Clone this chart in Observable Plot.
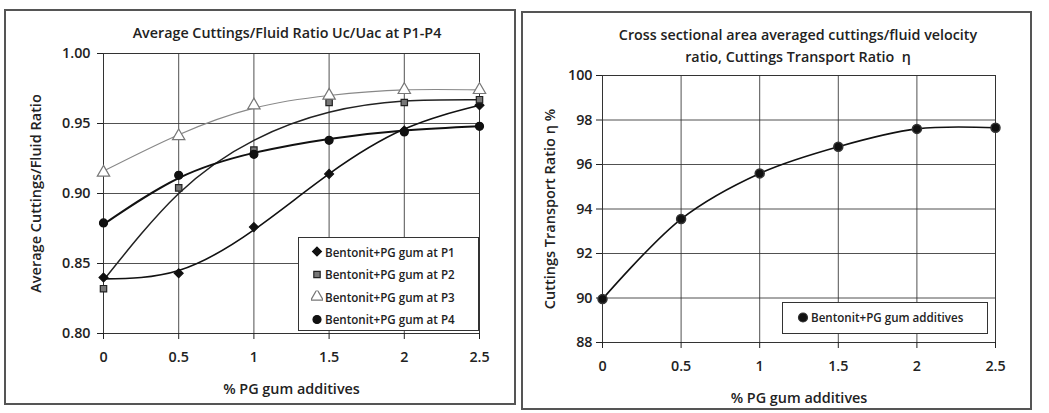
<!DOCTYPE html>
<html><head><meta charset="utf-8">
<script src="https://cdn.jsdelivr.net/npm/d3@7"></script>
<script src="https://cdn.jsdelivr.net/npm/@observablehq/plot@0.6"></script>
<style>
body{margin:0;background:#fff;font-family:"Open Sans",sans-serif;color:#222;}
#wrap{position:relative;width:1049px;height:413px;overflow:hidden;background:#fff;}
.panel{position:absolute;border:2px solid #555;box-sizing:border-box;}
.chart{position:absolute;}
.title{position:absolute;font-size:14.3px;font-weight:600;text-align:center;white-space:nowrap;transform:translate(-50%,-50%);line-height:22px;}
.legend{position:absolute;border:1.5px solid #333;background:#fff;box-sizing:border-box;font-size:11.6px;font-weight:600;}
.legend .row{position:absolute;display:flex;align-items:center;white-space:nowrap;transform:translateY(-50%);}
.legend svg{margin-right:2px;}
.chart [aria-label="x-axis label"] text{font-size:14.4px !important;}
.chart [aria-label="y-axis label"] text{font-size:14.5px !important;}
</style></head>
<body><div id="wrap"></div>
<script>
// ---- data ----
const pgGum = [0, 0.5, 1, 1.5, 2, 2.5];
const xTicks = [0, 0.5, 1, 1.5, 2, 2.5];
// measured points
const p1 = [0.840, 0.843, 0.876, 0.914, 0.945, 0.963];
const p2 = [0.832, 0.904, 0.931, 0.965, 0.965, 0.967];
const p3 = [0.915, 0.941, 0.963, 0.970, 0.974, 0.974];
const p4 = [0.879, 0.913, 0.928, 0.938, 0.944, 0.948];
// trend curves
const p1Trend = [0.839, 0.845, 0.874, 0.914, 0.946, 0.963];
const p2Trend = [0.838, 0.900, 0.938, 0.958, 0.966, 0.967];
const p3Trend = [0.916, 0.942, 0.961, 0.970, 0.974, 0.974];
const p4Trend = [0.878, 0.911, 0.929, 0.939, 0.945, 0.948];
const leftYTicks = [0.80, 0.85, 0.90, 0.95, 1.00];
const seriesNames = ["Bentonit+PG gum at P1","Bentonit+PG gum at P2","Bentonit+PG gum at P3","Bentonit+PG gum at P4"];
// right chart
const eta = [89.95, 93.55, 95.6, 96.8, 97.6, 97.65];
const rightYTicks = [88, 90, 92, 94, 96, 98, 100];
const rightName = "Bentonit+PG gum additives";

const wrap = document.getElementById("wrap");
function add(html){wrap.insertAdjacentHTML("beforeend", html);}

add('<div class="panel" style="left:4px;top:9px;width:512px;height:396px"></div>');
add('<div class="panel" style="left:521px;top:11px;width:511px;height:399px"></div>');

const styles = [
  {sym:"diamond2", r:4.0, fill:"#111", stroke:"#111", line:"#111", sw:1.6},
  {sym:"square", r:3.6, fill:"#777", stroke:"#222", line:"#222", sw:1.5},
  {sym:"triangle", r:4.6, fill:"white", stroke:"#777", line:"#888", sw:1.2},
  {sym:"circle", r:4.0, fill:"#111", stroke:"#111", line:"#111", sw:2}
];
const pts = [p1,p2,p3,p4], trends = [p1Trend,p2Trend,p3Trend,p4Trend];

const fontStyle = {fontFamily:'"Open Sans",sans-serif', fontSize:"14.3px", fontWeight:600, color:"#222", background:"transparent", overflow:"visible"};

// ---- left chart ----
const leftMarks = [
  Plot.gridX(xTicks, {stroke:"#333", strokeOpacity:0.85}),
  Plot.gridY(leftYTicks, {stroke:"#333", strokeOpacity:0.85}),
  Plot.frame({stroke:"#333"}),
  Plot.axisX({ticks:xTicks, tickFormat:d=>String(d), label:"% PG gum additives", labelAnchor:"center", labelArrow:"none", labelOffset:60, tickSize:6, tickPadding:12}),
  Plot.axisY({ticks:leftYTicks, tickFormat:d3.format(".2f"), label:"Average Cuttings/Fluid Ratio", labelAnchor:"center", labelArrow:"none", labelOffset:73, tickSize:6, tickPadding:7})
];
trends.forEach((t,i)=>{
  leftMarks.push(Plot.line(pgGum.map((x,j)=>({x, y:t[j]})), {x:"x", y:"y", curve:"natural", stroke:styles[i].line, strokeWidth:styles[i].sw}));
});
pts.forEach((p,i)=>{
  const s = styles[i];
  leftMarks.push(Plot.dot(pgGum.map((x,j)=>({x, y:p[j]})), {x:"x", y:"y", symbol:()=>s.sym, r:s.r, fill:s.fill, stroke:s.stroke, strokeWidth:1.2}));
});
const left = Plot.plot({
  width:510, height:393, marginLeft:98, marginRight:36, marginTop:43, marginBottom:70,
  x:{domain:[0,2.5]}, y:{domain:[0.80,1.00]},
  style:fontStyle, marks:leftMarks
});
left.classList.add("chart"); left.style.left="5px"; left.style.top="10px";
wrap.appendChild(left);

// ---- right chart ----
const right = Plot.plot({
  width:505, height:396, marginLeft:77, marginRight:35, marginTop:63, marginBottom:66,
  x:{domain:[0,2.5]}, y:{domain:[88,100]},
  style:fontStyle,
  marks:[
    Plot.gridX(xTicks, {stroke:"#333", strokeOpacity:0.85}),
    Plot.gridY(rightYTicks, {stroke:"#333", strokeOpacity:0.85}),
    Plot.frame({stroke:"#333"}),
    Plot.axisX({ticks:xTicks, tickFormat:d=>String(d), label:"% PG gum additives", labelAnchor:"center", labelArrow:"none", labelOffset:60, tickSize:6, tickPadding:12}),
    Plot.axisY({ticks:rightYTicks, label:"Cuttings Transport Ratio η %", labelAnchor:"center", labelArrow:"none", labelOffset:58, tickSize:6, tickPadding:4}),
    Plot.line(pgGum.map((x,j)=>({x, y:eta[j]})), {x:"x", y:"y", curve:"catmull-rom", stroke:"#111", strokeWidth:1.6}),
    Plot.dot(pgGum.map((x,j)=>({x, y:eta[j]})), {x:"x", y:"y", r:4.5, fill:"#111", stroke:"#333"})
  ]
});
right.classList.add("chart"); right.style.left="525px"; right.style.top="12px";
wrap.appendChild(right);

// ---- titles ----
add('<div class="title" style="left:287px;top:33px">Average Cuttings/Fluid Ratio Uc/Uac at P1-P4</div>');
add('<div class="title" style="left:798px;top:46px">Cross sectional area averaged cuttings/fluid velocity<br>ratio, Cuttings Transport Ratio &nbsp;η</div>');

// ---- legends ----
function symSvg(s){
  const size = Math.PI*s.r*s.r;
  const sym = {diamond2:d3.symbolDiamond2, square:d3.symbolSquare, triangle:d3.symbolTriangle, circle:d3.symbolCircle}[s.sym];
  const d = d3.symbol(sym, size)();
  return `<svg width="12" height="12" viewBox="-6 -6 12 12"><path d="${d}" fill="${s.fill}" stroke="${s.stroke}" stroke-width="1.2"/></svg>`;
}
let leg = '<div class="legend" style="left:298px;top:237px;width:181px;height:94px">';
seriesNames.forEach((n,i)=>{
  leg += `<div class="row" style="left:12px;top:${13.5+i*22.5}px">${symSvg(styles[i])}${n}</div>`;
});
leg += '</div>';
add(leg);
add(`<div class="legend" style="left:782px;top:302px;width:206px;height:32px"><div class="row" style="left:14px;top:14px">${symSvg({sym:"circle",r:4.5,fill:"#111",stroke:"#333"})}${rightName}</div></div>`);
</script>
</body></html>
